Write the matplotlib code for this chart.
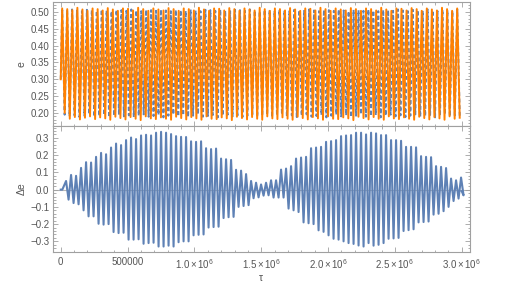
import numpy as np
import matplotlib
matplotlib.use("Agg")
import matplotlib.pyplot as plt
from matplotlib.ticker import MultipleLocator, FixedLocator, FixedFormatter

plt.rcParams['font.family'] = ['Liberation Sans', 'DejaVu Sans']
plt.rcParams['mathtext.fontset'] = 'custom'
plt.rcParams['mathtext.rm'] = 'Liberation Sans'
plt.rcParams['mathtext.it'] = 'Liberation Sans:italic'

# ---------------- data ----------------
# tau in units of 1e6
de_first_peak = 0.040
de_period = 0.0374
de_peaks = [0.05, 0.085, 0.08, 0.126, 0.159, 0.157, 0.19, 0.213, 0.205, 0.244,
            0.267, 0.258, 0.287, 0.302, 0.293, 0.314, 0.318, 0.314, 0.33,
            0.335, 0.33, 0.322, 0.31, 0.306, 0.305, 0.28, 0.277, 0.28, 0.24,
            0.235, 0.238, 0.18, 0.176, 0.172, 0.115, 0.11, 0.09, 0.05, 0.04, 0.03,
            0.04, 0.054, 0.054, 0.116, 0.122, 0.136, 0.18, 0.186, 0.19, 0.24,
            0.244, 0.248, 0.277, 0.281, 0.287, 0.31, 0.314, 0.316, 0.33, 0.33,
            0.32, 0.33, 0.326, 0.316, 0.316, 0.287, 0.287, 0.283, 0.248, 0.248,
            0.245, 0.194, 0.19, 0.188, 0.136, 0.132, 0.125, 0.064, 0.054, 0.07]
de_troughs = [-0.058, -0.078, -0.085, -0.12, -0.155, -0.155, -0.198, -0.203, -0.2, -0.246,
              -0.252, -0.25, -0.29, -0.29, -0.288, -0.314, -0.31, -0.308, -0.33,
              -0.33, -0.325, -0.33, -0.305, -0.30, -0.30, -0.265, -0.262, -0.26, -0.22,
              -0.217, -0.215, -0.165, -0.16, -0.158, -0.1, -0.095, -0.09, -0.05, -0.045, -0.035,
              -0.033, -0.046, -0.046, -0.046, -0.11, -0.12, -0.13, -0.19, -0.195, -0.2,
              -0.236, -0.245, -0.265, -0.285, -0.29, -0.3, -0.31, -0.315, -0.324, -0.33,
              -0.31, -0.325, -0.32, -0.31, -0.285, -0.283, -0.28, -0.24, -0.235, -0.23,
              -0.19, -0.188, -0.185, -0.145, -0.14, -0.125, -0.1, -0.066, -0.052, -0.033]
de_start = [0.0, 0.0]
de_end = -0.01

e_start = 0.30
e_first_peak = 0.011
orange_period = 0.03788
blue_period = 0.03694
orange_peaks = [0.510, 0.508, 0.505, 0.512, 0.507, 0.503, 0.510, 0.508, 0.504, 0.511,
                0.507, 0.503, 0.510, 0.509, 0.504, 0.512, 0.508, 0.503, 0.510, 0.507,
                0.504, 0.511, 0.508, 0.503, 0.510, 0.508, 0.504, 0.512, 0.507, 0.503,
                0.510, 0.509, 0.504, 0.511, 0.508, 0.503, 0.510, 0.507, 0.504, 0.512,
                0.508, 0.503, 0.510, 0.508, 0.504, 0.511, 0.507, 0.503, 0.510, 0.509,
                0.504, 0.512, 0.508, 0.503, 0.510, 0.507, 0.504, 0.511, 0.508, 0.503,
                0.510, 0.508, 0.504, 0.512, 0.507, 0.503, 0.510, 0.509, 0.504, 0.511,
                0.508, 0.503, 0.510, 0.507, 0.504, 0.512, 0.508, 0.503, 0.510]
orange_troughs = [0.200, 0.183, 0.188, 0.181, 0.186, 0.190, 0.182, 0.187, 0.184, 0.180,
                  0.189, 0.185, 0.181, 0.188, 0.183, 0.179, 0.190, 0.184, 0.182, 0.187,
                  0.183, 0.180, 0.189, 0.185, 0.181, 0.188, 0.184, 0.180, 0.190, 0.183,
                  0.182, 0.187, 0.184, 0.179, 0.189, 0.185, 0.181, 0.188, 0.183, 0.180,
                  0.190, 0.184, 0.182, 0.187, 0.183, 0.180, 0.189, 0.185, 0.181, 0.188,
                  0.184, 0.180, 0.190, 0.183, 0.182, 0.187, 0.184, 0.179, 0.189, 0.185,
                  0.181, 0.188, 0.183, 0.180, 0.190, 0.184, 0.182, 0.187, 0.183, 0.180,
                  0.189, 0.185, 0.181, 0.188, 0.184, 0.180, 0.190, 0.183, 0.186]
blue_peaks = [0.505, 0.503, 0.507, 0.504, 0.502, 0.506, 0.505, 0.503, 0.507, 0.504,
              0.502, 0.506, 0.505, 0.503, 0.507, 0.504, 0.502, 0.506, 0.505, 0.503,
              0.507, 0.504, 0.502, 0.506, 0.505, 0.503, 0.507, 0.504, 0.502, 0.506,
              0.505, 0.503, 0.507, 0.504, 0.502, 0.506, 0.505, 0.503, 0.507, 0.504,
              0.502, 0.506, 0.505, 0.503, 0.507, 0.504, 0.502, 0.506, 0.505, 0.503,
              0.507, 0.504, 0.502, 0.506, 0.505, 0.503, 0.507, 0.504, 0.502, 0.506,
              0.505, 0.503, 0.507, 0.504, 0.502, 0.506, 0.505, 0.503, 0.507, 0.504,
              0.502, 0.506, 0.505, 0.503, 0.507, 0.504, 0.502, 0.506, 0.505, 0.503,
              0.507]
blue_troughs = [0.195, 0.190, 0.193, 0.188, 0.192, 0.196, 0.189, 0.191, 0.194, 0.187,
                0.192, 0.195, 0.190, 0.193, 0.188, 0.192, 0.196, 0.189, 0.191, 0.194,
                0.187, 0.192, 0.195, 0.190, 0.193, 0.188, 0.192, 0.196, 0.189, 0.191,
                0.194, 0.187, 0.192, 0.195, 0.190, 0.193, 0.188, 0.192, 0.196, 0.189,
                0.191, 0.194, 0.187, 0.192, 0.195, 0.190, 0.193, 0.188, 0.192, 0.196,
                0.189, 0.191, 0.194, 0.187, 0.192, 0.195, 0.190, 0.193, 0.188, 0.192,
                0.196, 0.189, 0.191, 0.194, 0.187, 0.192, 0.195, 0.190, 0.193, 0.188,
                0.192, 0.196, 0.189, 0.191, 0.194, 0.187, 0.192, 0.195, 0.190, 0.193,
                0.191]

x_ticks = [0, 0.5, 1.0, 1.5, 2.0, 2.5, 3.0]
x_ticklabels = ['0', '500000', r'$1.0\times10^{6}$', r'$1.5\times10^{6}$',
                r'$2.0\times10^{6}$', r'$2.5\times10^{6}$', r'$3.0\times10^{6}$']
top_yticks = [0.20, 0.25, 0.30, 0.35, 0.40, 0.45, 0.50]
bot_yticks = [-0.3, -0.2, -0.1, 0.0, 0.1, 0.2, 0.3]

# ---------------- build zigzag polylines ----------------
def zigzag(t0, period, peaks, troughs, start_t, start_v, end_t=None, end_v=None):
    t = [start_t]
    v = [start_v]
    for i, (p, q) in enumerate(zip(peaks, troughs)):
        tp = t0 + i * period
        t += [tp, tp + period / 2]
        v += [p, q]
    if end_t is not None:
        t.append(end_t)
        v.append(end_v)
    return np.array(t) * 1e6, np.array(v)

ot, ov = zigzag(e_first_peak, orange_period, orange_peaks, orange_troughs, 0.0, e_start)
bt, bv = zigzag(e_first_peak, blue_period, blue_peaks, blue_troughs, 0.0, e_start)
dt_, dv = zigzag(de_first_peak, de_period, de_peaks, de_troughs, 0.0, de_start[0], 3.0, de_end)
dt_ = np.insert(dt_, 1, 0.012e6)
dv = np.insert(dv, 1, de_start[1])

# ---------------- figure ----------------
BLUE = '#5E81B5'
ORANGE = '#FF8000'
FRAME = '#a0a0a0'
TXT = '#555555'

fig = plt.figure(figsize=(5.06, 2.89), dpi=100)
L, R = 52.7 / 506, 469.8 / 506
ax1 = fig.add_axes([L, 1 - 126.5 / 289, R - L, (126.5 - 1.7) / 289])
ax2 = fig.add_axes([L, 1 - 251.7 / 289, R - L, (251.7 - 126.5) / 289])

ax1.plot(bt, bv, color=BLUE, lw=1.4, dashes=(2.0, 1.4), zorder=2,
         solid_joinstyle='round', dash_joinstyle='round')
ax1.plot(ot, ov, color=ORANGE, lw=1.4, zorder=3, solid_joinstyle='round')
ax2.axhline(0, color='#b8b8b8', lw=0.8, zorder=1)
ax2.plot(dt_, dv, color=BLUE, lw=1.5, zorder=2, solid_joinstyle='round')

xlim = (-0.06e6, 3.06e6)
for ax in (ax1, ax2):
    ax.set_xlim(*xlim)
    ax.xaxis.set_major_locator(FixedLocator([v * 1e6 for v in x_ticks]))
    ax.xaxis.set_minor_locator(MultipleLocator(0.1e6))
    for s in ax.spines.values():
        s.set_color(FRAME)
        s.set_linewidth(0.8)
    ax.tick_params(which='both', direction='in', top=True, right=True,
                   color=FRAME, labelcolor=TXT, labelsize=7, width=0.6)
    ax.tick_params(which='major', length=3.5, pad=2.5)
    ax.tick_params(which='minor', length=1.8)

ax1.set_ylim(0.160, 0.530)
ax1.yaxis.set_major_locator(FixedLocator(top_yticks))
ax1.yaxis.set_major_formatter(FixedFormatter(['%.2f' % v for v in top_yticks]))
ax1.yaxis.set_minor_locator(MultipleLocator(0.01))
ax1.tick_params(labelbottom=False)

ax2.set_ylim(-0.360, 0.366)
ax2.yaxis.set_major_locator(FixedLocator(bot_yticks))
ax2.yaxis.set_major_formatter(FixedFormatter([('%.1f' % v).replace('-', '\u2212') for v in bot_yticks]))
ax2.yaxis.set_minor_locator(MultipleLocator(0.02))
ax2.xaxis.set_major_formatter(FixedFormatter(x_ticklabels))
ax2.tick_params(axis='x', pad=4)

ax1.set_ylabel('e', color=TXT, fontsize=7.5)
ax1.yaxis.set_label_coords(-0.063, 0.5)
ax2.set_ylabel('\u0394e', color=TXT, fontsize=7.5)
ax2.yaxis.set_label_coords(-0.063, 0.5)
ax2.set_xlabel('\u03c4', color=TXT, fontsize=7.5)
ax2.xaxis.set_label_coords(0.5, -0.17)

fig.savefig('out.png', dpi=100)
